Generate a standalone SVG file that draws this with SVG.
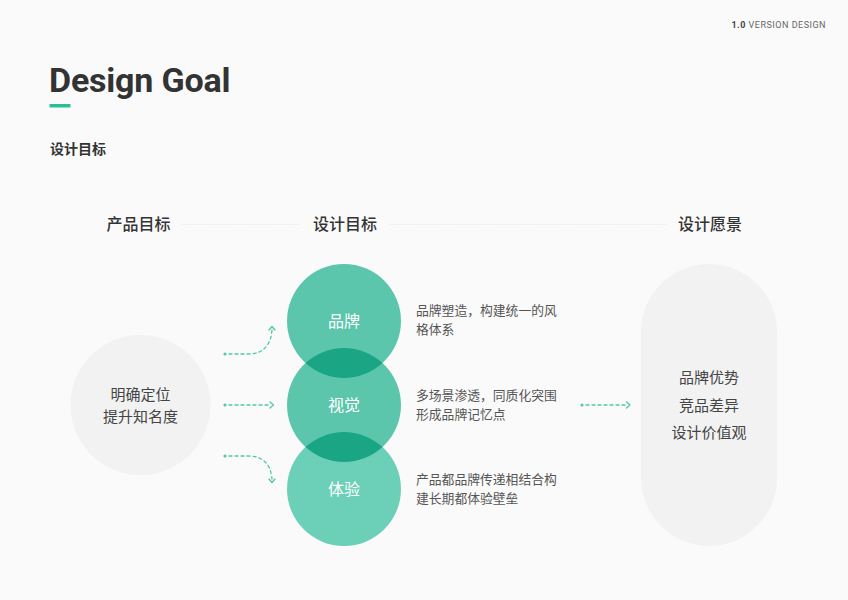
<svg xmlns="http://www.w3.org/2000/svg" width="848" height="600" viewBox="0 0 848 600">
<defs>
<style>
.cn{font-family:"Noto Sans CJK SC","Noto Sans",sans-serif;}
.hdr{font-size:16px;fill:#333;font-weight:500;text-anchor:middle;}
.desc{font-size:12.8px;fill:#555;}
.inner{font-size:16px;fill:#ffffff;text-anchor:middle;font-weight:400;}
.gray{font-size:15px;fill:#444;text-anchor:middle;font-weight:400;}
.dash{fill:none;stroke:#4fc9a9;stroke-width:1.3;stroke-dasharray:3 3;stroke-linecap:round;}
.head{fill:none;stroke:#4fc9a9;stroke-width:1.3;stroke-linecap:round;stroke-linejoin:round;}
.dot{fill:#4fc9a9;}
.sep{stroke:#e6e6e6;stroke-width:1;stroke-dasharray:1 1.5;}
.lens{fill:#1aa585;}
</style>
</defs>
<rect x="0" y="0" width="848" height="600" fill="#fafafa"/>
<g id="header">
<text x="826" y="28" text-anchor="end" font-family="Roboto,'Liberation Sans',sans-serif" font-size="9" fill="#666" letter-spacing="0.5"><tspan font-weight="700" fill="#444">1.0</tspan> VERSION DESIGN</text>
<text x="49" y="92" font-family="Roboto,'Liberation Sans',sans-serif" font-size="34" font-weight="700" fill="#333" letter-spacing="-0.2">Design Goal</text>
<rect x="49.5" y="104" width="21" height="3.5" fill="#2bbf98"/>
<text x="50" y="154" class="cn" font-size="14" font-weight="700" fill="#333">设计目标</text>
</g>
<g id="column-headers">
<text x="138.5" y="230" class="cn hdr">产品目标</text>
<text x="345" y="230" class="cn hdr">设计目标</text>
<text x="710" y="230" class="cn hdr">设计愿景</text>
<line x1="182" y1="224.5" x2="301" y2="224.5" class="sep"/>
<line x1="390" y1="224.5" x2="668" y2="224.5" class="sep"/>
</g>
<g id="product-goal">
<circle cx="140.5" cy="405" r="70" fill="#f2f2f2"/>
<text x="140.5" y="399.5" class="cn gray">明确定位</text>
<text x="140.5" y="422" class="cn gray">提升知名度</text>
</g>
<g id="design-circles">
<g id="brand">
<circle cx="344" cy="321" r="57" fill="#5cc6ad"/>
</g>
<g id="visual">
<circle cx="344" cy="405" r="57" fill="#5cc6ad"/>
</g>
<g id="experience">
<circle cx="344" cy="489" r="57" fill="#6ccfb7"/>
</g>
<path class="lens" d="M305.5 363 A57 57 0 0 1 382.5 363 A57 57 0 0 1 305.5 363 Z"/>
<path class="lens" d="M305.5 447 A57 57 0 0 1 382.5 447 A57 57 0 0 1 305.5 447 Z"/>
<text x="344" y="327" class="cn inner">品牌</text>
<text x="344" y="411" class="cn inner">视觉</text>
<text x="344" y="495" class="cn inner">体验</text>
</g>
<g id="descriptions">
<text x="416" y="315" class="cn desc">品牌塑造，构建统一的风</text>
<text x="416" y="334" class="cn desc">格体系</text>
<text x="416" y="400" class="cn desc">多场景渗透，同质化突围</text>
<text x="416" y="419" class="cn desc">形成品牌记忆点</text>
<text x="416" y="484" class="cn desc">产品都品牌传递相结合构</text>
<text x="416" y="503" class="cn desc">建长期都体验壁垒</text>
</g>
<g id="vision">
<rect x="641" y="264" width="136" height="282" rx="68" fill="#f2f2f2"/>
<text x="709" y="383" class="cn gray">品牌优势</text>
<text x="709" y="411" class="cn gray">竞品差异</text>
<text x="709" y="438" class="cn gray">设计价值观</text>
</g>
<g id="connectors">
<circle cx="225" cy="354" r="1.6" class="dot"/>
<path class="dash" d="M229 354 H248 Q270 354 272 330"/>
<path class="head" d="M269 330 L272 326.5 L275 330"/>
<circle cx="225" cy="405" r="1.6" class="dot"/>
<path class="dash" d="M229 405 H270"/>
<path class="head" d="M270 402 L273.5 405 L270 408"/>
<circle cx="225" cy="456" r="1.6" class="dot"/>
<path class="dash" d="M229 456 H248 Q270 456 272 479"/>
<path class="head" d="M269 479 L272 482.5 L275 479"/>
<circle cx="582" cy="405" r="1.6" class="dot"/>
<path class="dash" d="M586 405 H627"/>
<path class="head" d="M626.5 402 L630 405 L626.5 408"/>
</g>
</svg>
